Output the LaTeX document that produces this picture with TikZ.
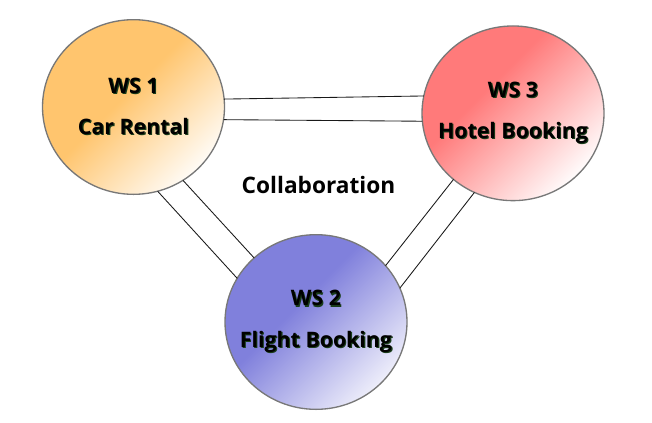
\documentclass[tikz,border=0pt]{standalone}
\usepackage{fontspec}
\setmainfont{Open Sans}
\usetikzlibrary{shapes.geometric}
\definecolor{wsorange}{RGB}{255,197,110}
\definecolor{wsred}{RGB}{255,122,122}
\definecolor{wsblue}{RGB}{128,128,220}
\definecolor{shadowgreen}{RGB}{25,60,25}
\definecolor{rimgray}{RGB}{120,120,120}
\pgfdeclarehorizontalshading{orangefade}{100bp}{color(0bp)=(wsorange); color(46bp)=(wsorange); color(77bp)=(white); color(100bp)=(white)}
\pgfdeclarehorizontalshading{redfade}{100bp}{color(0bp)=(wsred); color(40bp)=(wsred); color(76bp)=(white); color(100bp)=(white)}
\pgfdeclarehorizontalshading{bluefade}{100bp}{color(0bp)=(wsblue); color(43bp)=(wsblue); color(80bp)=(white); color(100bp)=(white)}
\newcommand\shtxt[1]{\makebox[0pt][c]{\rlap{\hspace{0.8pt}\raisebox{-0.8pt}{\color{shadowgreen}#1}}#1}}
\tikzset{
  wsnode/.style={ellipse, draw=rimgray, line width=1pt, minimum width=136.5pt,
    minimum height=131pt, inner sep=0pt, outer sep=0pt, shading angle=-45,
    align=center, font=\fontsize{16pt}{31pt}\selectfont\bfseries},
  link/.style={draw=black!90, line width=0.65pt},
  label/.style={font=\fontsize{17pt}{20pt}\selectfont\bfseries}
}
\begin{document}
\begin{tikzpicture}[x=0.75pt,y=-0.75pt]
\useasboundingbox (0,0) rectangle (652,422);
\node[wsnode, shading=orangefade] (ws1) at (133.5,107) {\shtxt{WS 1}\\\shtxt{Car Rental}};
\node[wsnode, shading=redfade] (ws3) at (513,113.3) {\shtxt{WS 3}\\\shtxt{Hotel Booking}};
\node[wsnode, shading=bluefade] (ws2) at (316,322) {\shtxt{WS 2}\\\shtxt{Flight Booking}};
\node[label] (collab) at (318.5,185) {Collaboration};
\draw[link] (ws1.5) -- (ws3.169);
\draw[link] (ws1.-8.6) -- (ws3.185);
\draw[link] (ws1.-74.7) -- (ws2.151.5);
\draw[link] (ws1.-56.6) -- (ws2.134.1);
\draw[link] (ws3.-132.9) -- (ws2.39.6);
\draw[link] (ws3.-116.2) -- (ws2.22.6);
\end{tikzpicture}
\end{document}
